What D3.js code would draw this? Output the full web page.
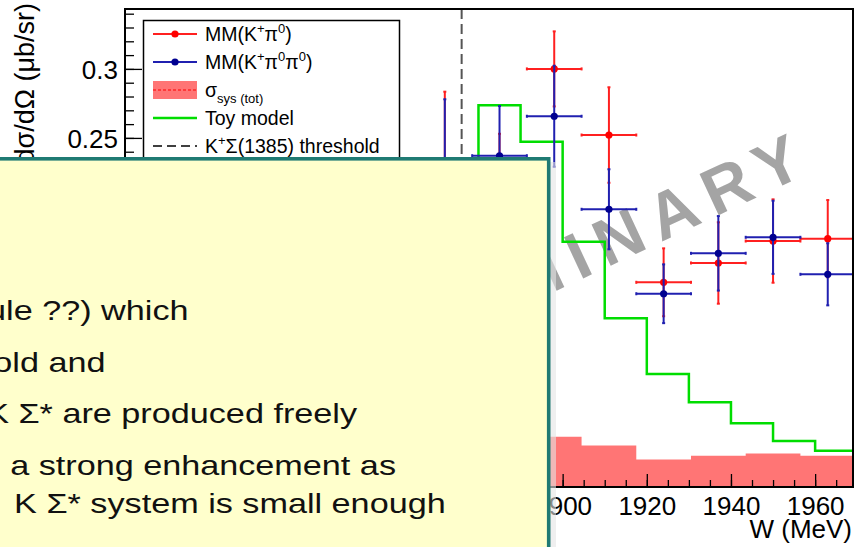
<!DOCTYPE html>
<html>
<head>
<meta charset="utf-8">
<script src="https://cdn.jsdelivr.net/npm/d3@7"></script>
<style>
body { margin: 0; background: #fff; }
svg { display: block; font-family: "Liberation Sans", Helvetica, Arial, sans-serif; }
</style>
</head>
<body>
<svg id="chart" width="858" height="547"></svg>
<script>
// data
var binCenters = [1872, 1885, 1898, 1911, 1924, 1937, 1950, 1963];
var binHalf = 6.5;
var mmKpi0 = [0.228, 0.218, 0.300, 0.2521, 0.1454, 0.1594, 0.1753, 0.177];
var mmKpi0Err = [0.0555, 0.035, 0.0272, 0.0346, 0.0246, 0.0295, 0.0302, 0.028];
var mmKpi0pi0 = [0.229, 0.2371, 0.2657, 0.1983, 0.1371, 0.1664, 0.178, 0.1512];
var mmKpi0pi0Err = [0.049, 0.036, 0.0366, 0.029, 0.0213, 0.027, 0.0265, 0.0225];
var sysTot = [0.030, 0.035, 0.0335, 0.0272, 0.0171, 0.0197, 0.0214, 0.0197];

var toyEdges = [1870, 1880, 1890, 1900, 1910, 1920, 1930, 1940, 1950, 1960, 1970];
var toyModel = [0.20, 0.2736, 0.2473, 0.1748, 0.1193, 0.0790, 0.0585, 0.0433, 0.0305, 0.0234];

var threshold = 1876;
var xTicks = [1800, 1820, 1840, 1860, 1880, 1900, 1920, 1940, 1960];
var yTicks = [0, 0.05, 0.1, 0.15, 0.2, 0.25, 0.3];

var svg = d3.select('#chart');
var x = d3.scaleLinear().domain([1796, 1969]).range([125, 853]);
var y = d3.scaleLinear().domain([-0.0029, 0.3434]).range([487, 9]);

svg.append('defs').append('clipPath').attr('id', 'frame')
  .append('rect').attr('x', 125).attr('y', 9).attr('width', 728).attr('height', 478);

var plot = svg.append('g').attr('clip-path', 'url(#frame)');

// watermark
plot.append('text')
  .attr('transform', 'translate(288,416) rotate(-25)')
  .attr('text-anchor', 'start')
  .style('font-size', '66px')
  .style('font-weight', 'bold')
  .style('letter-spacing', '12px')
  .attr('fill', '#a4a4a4')
  .text('PRELIMINARY');

// toy model histogram
var toyPts = [];
toyModel.forEach(function(v, i) {
  toyPts.push([toyEdges[i], v]);
  toyPts.push([toyEdges[i + 1], v]);
});
plot.append('path')
  .datum(toyPts)
  .attr('fill', 'none')
  .attr('stroke', '#00dd00')
  .attr('stroke-width', 2.5)
  .attr('d', d3.line().x(function(d){ return x(d[0]); }).y(function(d){ return y(d[1]); }));

// threshold
plot.append('line')
  .attr('x1', x(threshold)).attr('x2', x(threshold))
  .attr('y1', y.range()[1]).attr('y2', y.range()[0])
  .attr('stroke', '#555').attr('stroke-width', 2)
  .attr('stroke-dasharray', '10,5');

function drawSeries(vals, errs, lineCol, dotCol) {
  var g = plot.append('g');
  binCenters.forEach(function(c, i) {
    var cx = x(c), cy = y(vals[i]);
    var x0 = x(c - binHalf), x1 = x(c + binHalf);
    var y0 = y(vals[i] - errs[i]), y1 = y(vals[i] + errs[i]);
    g.append('line').attr('x1', x0).attr('x2', x1).attr('y1', cy).attr('y2', cy);
    g.append('line').attr('x1', cx).attr('x2', cx).attr('y1', y0).attr('y2', y1);
    g.append('line').attr('x1', x0).attr('x2', x0).attr('y1', cy - 1.5).attr('y2', cy + 1.5);
    g.append('line').attr('x1', x1).attr('x2', x1).attr('y1', cy - 1.5).attr('y2', cy + 1.5);
    g.append('line').attr('x1', cx - 1.5).attr('x2', cx + 1.5).attr('y1', y0).attr('y2', y0);
    g.append('line').attr('x1', cx - 1.5).attr('x2', cx + 1.5).attr('y1', y1).attr('y2', y1);
    g.append('circle').attr('cx', cx).attr('cy', cy).attr('r', 3.6).attr('fill', dotCol);
  });
  g.selectAll('line').attr('stroke', lineCol).attr('stroke-width', 2);
}
drawSeries(mmKpi0, mmKpi0Err, '#ff2020', '#ff0000');
drawSeries(mmKpi0pi0, mmKpi0pi0Err, '#2020b0', '#000090');

// axes
var xMajor = d3.axisBottom(x).tickValues(xTicks).tickSize(-13).tickFormat(d3.format('d'));
var xMinor = d3.axisBottom(x).tickValues(d3.range(1800, 1970, 5)).tickSize(-7).tickFormat('');
var yMajor = d3.axisLeft(y).tickValues(yTicks).tickSize(-17).tickFormat(d3.format('~g'));
var yMinor = d3.axisLeft(y).tickValues(d3.range(0, 0.345, 0.01)).tickSize(-9).tickFormat('');

[xMinor, xMajor].forEach(function(a) {
  svg.append('g').attr('class', 'axis').attr('transform', 'translate(0,487)').call(a);
});
[yMinor, yMajor].forEach(function(a) {
  svg.append('g').attr('class', 'axis').attr('transform', 'translate(125,0)').call(a);
});
svg.selectAll('.axis .domain').remove();
svg.selectAll('.axis line').attr('stroke', '#000').attr('stroke-width', 1.3);
svg.selectAll('.axis text')
  .attr('fill', '#000')
  .style('font-size', '26px')
  .style('font-family', '"Liberation Sans", Helvetica, Arial, sans-serif');
svg.selectAll('.axis').filter(function(d, i){ return i === 1; }).selectAll('text')
  .attr('y', 28).attr('dy', 0);
svg.selectAll('.axis').filter(function(d, i){ return i === 3; }).selectAll('text')
  .attr('x', -7).attr('dy', '0.36em');

svg.append('rect')
  .attr('x', 125).attr('y', 9).attr('width', 728).attr('height', 478)
  .attr('fill', 'none').attr('stroke', '#000').attr('stroke-width', 2);

// systematic band
var sysPts = [];
binCenters.forEach(function(c, i) {
  sysPts.push([c - binHalf, sysTot[i]]);
  sysPts.push([c + binHalf, sysTot[i]]);
});
plot.append('path')
  .datum(sysPts)
  .attr('fill', '#ff0000')
  .attr('fill-opacity', 0.54)
  .attr('d', d3.area()
    .x(function(d){ return x(d[0]); })
    .y0(y.range()[0])
    .y1(function(d){ return y(d[1]); }));

// axis titles
svg.append('text')
  .attr('x', 852).attr('y', 538)
  .attr('text-anchor', 'end')
  .style('font-size', '26px')
  .text('W (MeV)');
svg.append('text')
  .attr('transform', 'translate(34,3) rotate(-90)')
  .attr('text-anchor', 'end')
  .style('font-size', '27px')
  .text('dσ/dΩ (μb/sr)');

// legend
var leg = svg.append('g');
leg.append('rect').attr('x', 143.5).attr('y', 20.5).attr('width', 256).attr('height', 170)
  .attr('fill', '#fff').attr('stroke', '#000').attr('stroke-width', 1.5);

function supText(sel, parts) {
  parts.forEach(function(p) {
    var t = sel.append('tspan').text(p[0]);
    if (p[1] === 'sup') t.attr('dy', -8).style('font-size', '13px');
    if (p[1] === 'sub') t.attr('dy', 6).style('font-size', '13px');
    if (p[1] === 'back') t.attr('dy', 8);
  });
}
var legY = [34, 62, 90, 118, 146];
function legText(i) {
  return leg.append('text').attr('x', 205).attr('y', legY[i] + 7).style('font-size', '19.5px');
}
var cols = ['#ff2020', '#2020b0'];
var dots = ['#ff0000', '#000090'];
[0, 1].forEach(function(i) {
  leg.append('line').attr('x1', 153).attr('x2', 197).attr('y1', legY[i]).attr('y2', legY[i])
    .attr('stroke', cols[i]).attr('stroke-width', 2);
  leg.append('circle').attr('cx', 175).attr('cy', legY[i]).attr('r', 3.6).attr('fill', dots[i]);
});
supText(legText(0), [['MM(K'], ['+', 'sup'], ['π', 'back'], ['0', 'sup'], [')', 'back']]);
supText(legText(1), [['MM(K'], ['+', 'sup'], ['π', 'back'], ['0', 'sup'], ['π', 'back'], ['0', 'sup'], [')', 'back']]);

leg.append('rect').attr('x', 153).attr('y', 81).attr('width', 44).attr('height', 18)
  .attr('fill', '#ff0000').attr('fill-opacity', 0.54);
leg.append('line').attr('x1', 153).attr('x2', 197).attr('y1', 90).attr('y2', 90)
  .attr('stroke', '#ff0000').attr('stroke-width', 1).attr('stroke-dasharray', '3,2');
supText(legText(2), [['σ'], ['sys (tot)', 'sub']]);

leg.append('line').attr('x1', 153).attr('x2', 197).attr('y1', 118).attr('y2', 118)
  .attr('stroke', '#00dd00').attr('stroke-width', 2.5);
legText(3).text('Toy model');

leg.append('line').attr('x1', 153).attr('x2', 197).attr('y1', 146).attr('y2', 146)
  .attr('stroke', '#000').attr('stroke-width', 1.5).attr('stroke-dasharray', '9,5');
supText(legText(4), [['K'], ['+', 'sup'], ['Σ(1385) threshold', 'back']]);

// yellow note box covering part of the plot
svg.append('rect').attr('x', 549).attr('y', 162).attr('width', 7).attr('height', 400)
  .attr('fill', '#e4e4e4').attr('opacity', 0.6);
svg.append('rect')
  .attr('x', -20).attr('y', 158.8).attr('width', 568.7).attr('height', 420)
  .attr('fill', '#ffffcc').attr('stroke', '#1f7a73').attr('stroke-width', 3.6);

var noteLines = ['ule ??) which', 'old and', 'K Σ* are produced freely',
                 'a strong enhancement as', 'K Σ* system is small enough'];
var noteEnds = [188.5, 105.5, 357, 396, 445.7];
var noteBase = [320, 371.7, 423.3, 475, 513.3];
var note = svg.append('g').attr('transform', 'scale(1.2,1)');
noteLines.forEach(function(s, i) {
  note.append('text')
    .attr('x', noteEnds[i] / 1.2).attr('y', noteBase[i])
    .attr('text-anchor', 'end')
    .attr('fill', '#111')
    .style('font-size', '28.5px')
    .text(s);
});
</script>
</body>
</html>
